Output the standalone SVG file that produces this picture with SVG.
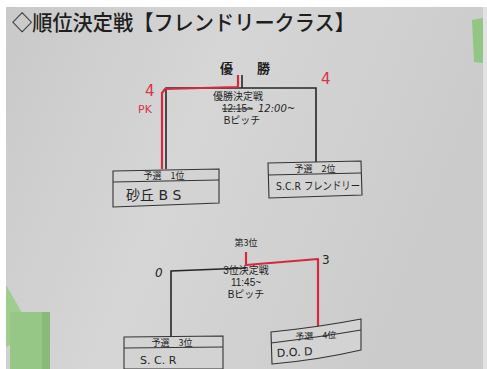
<svg xmlns="http://www.w3.org/2000/svg" width="487" height="369" viewBox="0 0 487 369">
<defs>
<linearGradient id="paper" x1="0" y1="0" x2="1" y2="0.3">
<stop offset="0" stop-color="#c9c9c9"/>
<stop offset="0.45" stop-color="#d6d6d6"/>
<stop offset="1" stop-color="#cbcbcb"/>
</linearGradient>
<style>
.jp{font-family:"Noto Sans CJK JP","Noto Sans",sans-serif;fill:#1e1e1e}
.lbl{font-family:"Liberation Sans","Noto Sans CJK JP",sans-serif;fill:#1e1e1e}
.hand{font-family:"DejaVu Sans","Noto Sans CJK JP",sans-serif;fill:#262626}
.red{font-family:"DejaVu Sans",sans-serif;fill:#d8334a}
.bk{stroke:#262626;stroke-width:1.6;fill:none}
.rd{stroke:#d42a40;stroke-width:2.2;fill:none;stroke-linejoin:round}
.box{stroke:#333;stroke-width:1.1;fill:#d3d3d3}
</style>
</defs>
<rect x="0" y="0" width="487" height="369" fill="#ffffff"/>
<rect x="6" y="7" width="478" height="362" fill="url(#paper)"/>
<rect x="483" y="7" width="4" height="362" fill="#e2e2e2"/>
<!-- tape -->
<polygon points="472,20 483,18 483,63 474,62" fill="#93c585"/>
<polygon points="6,285 33,332 6,347" fill="#9fcc8f"/>
<rect x="10" y="312" width="40" height="57" fill="#97c787"/>
<rect x="42" y="312" width="8" height="57" fill="#88bb78"/>

<text class="jp" x="12" y="30" font-size="21" font-weight="500" textLength="343" lengthAdjust="spacingAndGlyphs">◇順位決定戦【フレンドリークラス】</text>

<g id="connectors">
<!-- final -->
<polyline class="bk" points="242,75 242,88"/>
<polyline class="bk" points="166,169 166,88 316,88 316,162"/>
<polyline class="rd" points="238,75 238,87 165,89 162,93 162,169"/>
<!-- third place -->
<polyline class="bk" points="171,336 171,271 246,268"/>
<polyline class="rd" points="246,252 246,265 318,259 318,326"/>
</g>

<g id="final-label">
<text class="jp" x="220" y="73" font-size="13" font-weight="bold">優</text>
<text class="jp" x="257" y="73" font-size="13" font-weight="bold">勝</text>
<text class="lbl" x="238" y="100" font-size="10" text-anchor="middle">優勝決定戦</text>
<text class="lbl" x="222" y="112" font-size="10" text-decoration="line-through">12:15~</text>
<text class="hand" x="258" y="112" font-size="10" font-style="italic">12:00~</text>
<text class="lbl" x="242" y="124" font-size="10" text-anchor="middle">Bピッチ</text>
<text class="red" x="145" y="96" font-size="15">4</text>
<text class="red" x="138" y="113" font-size="11">PK</text>
<text class="red" x="321" y="84" font-size="15">4</text>
</g>

<g id="team1">
<polygon class="box" points="113,171 219,169 219,203 113,207"/>
<line class="box" x1="113" y1="182" x2="219" y2="180"/>
<text class="jp" x="164" y="179" font-size="9" text-anchor="middle">予選　1位</text>
<text class="hand" x="126" y="200" font-size="14">砂丘 B S</text>
</g>

<g id="team2">
<polygon class="box" points="268,163 361,161 362,195 269,198"/>
<line class="box" x1="268" y1="175" x2="361" y2="173"/>
<text class="jp" x="315" y="172" font-size="9" text-anchor="middle">予選　2位</text>
<text class="hand" x="276" y="190" font-size="11" textLength="84" lengthAdjust="spacingAndGlyphs">S.C.R フレンドリー</text>
</g>

<g id="third-label">
<text class="jp" x="246" y="246" font-size="9" text-anchor="middle">第3位</text>
<text class="lbl" x="246" y="274" font-size="10" text-anchor="middle">3位決定戦</text>
<text class="lbl" x="246" y="286" font-size="10" text-anchor="middle">11:45~</text>
<text class="lbl" x="246" y="298" font-size="10" text-anchor="middle">Bピッチ</text>
<text class="hand" x="155" y="277" font-size="12" font-style="italic">0</text>
<text class="hand" x="322" y="264" font-size="12">3</text>
</g>

<g id="team3">
<polygon class="box" points="124,337 223,336 223,369 124,369"/>
<line class="box" x1="124" y1="348" x2="223" y2="347"/>
<text class="jp" x="172" y="346" font-size="9" text-anchor="middle">予選　3位</text>
<text class="hand" x="140" y="364" font-size="11">S. C. R</text>
</g>

<g id="team4">
<path class="box" d="M271,332 Q320,327 361,319 L361,350 Q318,360 272,364 Z"/>
<path class="box" d="M271,343 Q320,337 361,330" fill="none"/>
<text class="jp" x="316" y="339" font-size="9" text-anchor="middle" transform="rotate(-3 316 339)">予選　4位</text>
<text class="hand" x="277" y="357" font-size="11" transform="rotate(-3 277 357)">D.O. D</text>
</g>
</svg>
